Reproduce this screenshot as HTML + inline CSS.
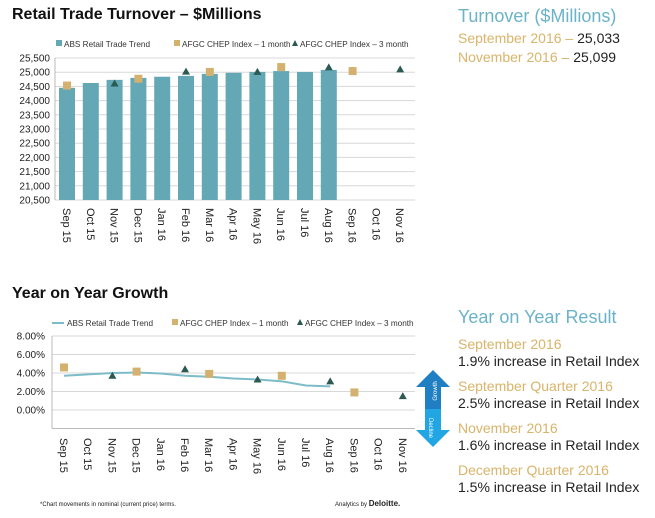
<!DOCTYPE html>
<html><head><meta charset="utf-8"><style>
body{margin:0;width:655px;height:518px;background:#fff;font-family:"Liberation Sans",sans-serif;position:relative;overflow:hidden}
.t{position:absolute;white-space:nowrap}
.h{font-weight:bold;font-size:16px;color:#111}
.bl{color:#6ab3c9}.gd{color:#d9b46a}.dk{color:#222}
</style></head><body>
<div class="t h" style="left:12px;top:6px">Retail Trade Turnover – $Millions</div>
<div class="t h" style="left:12px;top:285px">Year on Year Growth</div>
<div class="t bl" style="left:458px;top:6px;font-size:18px">Turnover ($Millions)</div>
<div class="t" style="left:458px;top:30px;font-size:14px"><span class="gd">September 2016</span> <span class="gd">–</span> <span class="dk">25,033</span></div>
<div class="t" style="left:458px;top:49px;font-size:14px"><span class="gd">November 2016</span> <span class="gd">–</span> <span class="dk">25,099</span></div>
<div class="t bl" style="left:458px;top:307px;font-size:18px">Year on Year Result</div>
<div style="position:absolute;left:458px;top:336px;font-size:14px;line-height:17px">
<div class="gd">September 2016</div><div class="dk" style="margin-bottom:8px">1.9% increase in Retail Index</div>
<div class="gd">September Quarter 2016</div><div class="dk" style="margin-bottom:8px">2.5% increase in Retail Index</div>
<div class="gd">November 2016</div><div class="dk" style="margin-bottom:8px">1.6% increase in Retail Index</div>
<div class="gd">December Quarter 2016</div><div class="dk">1.5% increase in Retail Index</div>
</div>
<svg width="655" height="518" style="position:absolute;left:0;top:0" id="svg">
<g>
<polygon points="433,370 416,387 425,387 425,409 441,409 441,387 450,387" fill="#1f7fc2"/>
<polygon points="425,409 441,409 441,430 450,430 433,447 416,430 425,430" fill="#21a6e3"/>
<text x="437" y="391" transform="rotate(-90 437 391)" font-size="6" fill="#fff" text-anchor="middle" font-family="Liberation Sans">Growth</text>
<text x="429" y="428" transform="rotate(90 429 428)" font-size="6" fill="#fff" text-anchor="middle" font-family="Liberation Sans">Decline</text>
</g>
<text x="40" y="506" font-size="6" fill="#222" font-family="Liberation Sans">*Chart movements in nominal (current price) terms.</text>
<text x="335" y="506" font-size="6" fill="#222" font-family="Liberation Sans">Analytics by <tspan font-weight="bold" font-size="8">Deloitte.</tspan></text>
</svg>
<script>
const cats=["Sep 15","Oct 15","Nov 15","Dec 15","Jan 16","Feb 16","Mar 16","Apr 16","May 16","Jun 16","Jul 16","Aug 16","Sep 16","Oct 16","Nov 16"];
const turnTicks=[20500,21000,21500,22000,22500,23000,23500,24000,24500,25000,25500];
const turnBars=[24450,24620,24730,24800,24840,24870,24940,24980,25010,25040,25010,25080];
const turn1m=[24530,null,null,24770,null,null,25010,null,null,25180,null,null,25040,null,null];
const turn3m=[null,null,24600,null,null,25020,null,null,25010,null,null,25170,null,null,25100];
const growTicks=[0,2,4,6,8];
const growLine=[3.7,3.85,4.0,4.05,3.95,3.7,3.6,3.4,3.3,3.1,2.65,2.55];
const grow1m=[4.6,null,null,4.15,null,null,3.9,null,null,3.7,null,null,1.9,null,null];
const grow3m=[null,null,3.7,null,null,4.4,null,null,3.3,null,null,3.1,null,null,1.5];
const NS="http://www.w3.org/2000/svg",svg=document.getElementById('svg');
function mk(t,a,p){const e=document.createElementNS(NS,t);for(const k in a)e.setAttribute(k,a[k]);(p||svg).appendChild(e);return e}
const TEAL="#64a8b6",GOLD="#d4b16e",DK="#2a5a52";
function legend(y,line){
 const g=mk('g',{});
 
 
 let x=line?52:56;
 const fs=8.2;
 if(line)mk('line',{x1:x,y1:y-3,x2:x+12,y2:y-3,stroke:'#7bbcc8','stroke-width':2},g);else mk('rect',{x:x,y:y-7,width:6,height:6,fill:TEAL},g);
 let t=mk('text',{x:x+(line?15:8),y:y,'font-size':fs,fill:'#333','font-family':'Liberation Sans'},g);t.textContent='ABS Retail Trade Trend';
 x=line?172:174;mk('rect',{x:x,y:y-7,width:6,height:6,fill:GOLD},g);
 t=mk('text',{x:x+8,y:y,'font-size':fs,fill:'#333','font-family':'Liberation Sans'},g);t.textContent='AFGC CHEP Index – 1 month';
 x=line?297:292;mk('polygon',{points:`${x},${y-1} ${x+6},${y-1} ${x+3},${y-7}`,fill:DK},g);
 t=mk('text',{x:x+8,y:y,'font-size':fs,fill:'#333','font-family':'Liberation Sans'},g);t.textContent='AFGC CHEP Index – 3 month';
}
function tri(cx,cy,name){const p=mk('polygon',{points:`${cx-4},${cy+3} ${cx+4},${cy+3} ${cx},${cy-4}`,fill:DK});}
function sq(cx,cy,name){const r=mk('rect',{x:cx-4,y:cy-4,width:8,height:8,fill:GOLD});}
function xlabels(xf,y0){cats.forEach((c,i)=>{const t=mk('text',{x:0,y:0,'font-size':11,fill:'#222','font-family':'Liberation Sans',transform:`translate(${xf(i)-4},${y0}) rotate(90)`});t.textContent=c;})}
legend(47,false);
const xT=i=>67+i*23.8, yT=v=>200-(v-20500)/500*14.2;
turnTicks.forEach(v=>{mk('line',{x1:55,x2:415,y1:yT(v),y2:yT(v),stroke:'#d8d8d8','stroke-width':1});const t=mk('text',{x:50,y:yT(v)+3.5,'font-size':10,'text-anchor':'end',fill:'#222','font-family':'Liberation Sans'});t.textContent=v.toLocaleString('en-US');});
mk('line',{x1:55,x2:55,y1:yT(25500),y2:200,stroke:'#bbb'});
turnBars.forEach((v,i)=>{const r=mk('rect',{x:xT(i)-8,y:yT(v),width:16,height:200-yT(v),fill:TEAL});});
turn1m.forEach((v,i)=>{if(v!=null)sq(xT(i),yT(v),'turnover-1m-point')});
turn3m.forEach((v,i)=>{if(v!=null)tri(xT(i),yT(v),'turnover-3m-point')});
xlabels(xT,208);
legend(326,true);
const xB=i=>64+i*24.2, yB=v=>410-v/2*18.5;
growTicks.forEach(v=>{mk('line',{x1:52,x2:415,y1:yB(v),y2:yB(v),stroke:'#d8d8d8'});const t=mk('text',{x:45,y:yB(v)+3.5,'font-size':10,'text-anchor':'end',fill:'#222','font-family':'Liberation Sans'});t.textContent=v.toFixed(2)+'%';});
mk('line',{x1:52,x2:415,y1:yB(-2),y2:yB(-2),stroke:'#bbb'});
mk('line',{x1:52,x2:52,y1:yB(8),y2:yB(-2),stroke:'#bbb'});
const pl=mk('polyline',{points:growLine.map((v,i)=>xB(i)+','+yB(v)).join(' '),fill:'none',stroke:'#7bbcc8','stroke-width':2});

grow1m.forEach((v,i)=>{if(v!=null)sq(xB(i),yB(v),'growth-1m-point')});
grow3m.forEach((v,i)=>{if(v!=null)tri(xB(i),yB(v),'growth-3m-point')});
xlabels(xB,438);
</script>
</body></html>
